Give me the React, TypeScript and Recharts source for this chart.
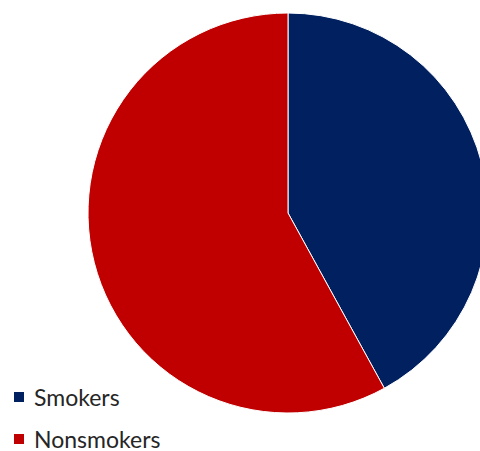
import { PieChart, Pie, Cell, Legend } from 'recharts'

const labels = ['Smokers', 'Nonsmokers']
const shares = [42, 58]
const colors = ['#002060', '#C00000']

const data = labels.map((name, i) => ({ name, value: shares[i] }))

function LegendBox() {
  return (
    <div
      style={{
        fontFamily: 'Lato, "Open Sans", sans-serif',
        fontSize: 23,
        lineHeight: 1,
        color: '#262626',
      }}
    >
      {labels.map((name, i) => (
        <div key={name} style={{ display: 'flex', alignItems: 'center', height: 42 }}>
          <span
            style={{
              display: 'inline-block',
              width: 10,
              height: 10,
              background: colors[i],
              marginRight: 10,
            }}
          />
          <span>{name}</span>
        </div>
      ))}
    </div>
  )
}

export default function App() {
  return (
    <div style={{ width: 480, height: 451, overflow: 'hidden', background: '#fff' }}>
      <style>{'body{margin:0}'}</style>
      <PieChart width={480} height={451} margin={{ top: 0, right: 0, bottom: 0, left: 0 }}>
        <Pie
          data={data}
          dataKey="value"
          nameKey="name"
          cx={288}
          cy={213}
          outerRadius={200}
          startAngle={90}
          endAngle={-270}
          stroke="#ffffff"
          strokeWidth={1}
          isAnimationActive={false}
        >
          {data.map((d, i) => (
            <Cell key={d.name} fill={colors[i]} />
          ))}
        </Pie>
        <Legend
          content={() => <LegendBox />}
          wrapperStyle={{ position: 'absolute', left: 14, top: 376, width: 200 }}
        />
      </PieChart>
    </div>
  )
}
